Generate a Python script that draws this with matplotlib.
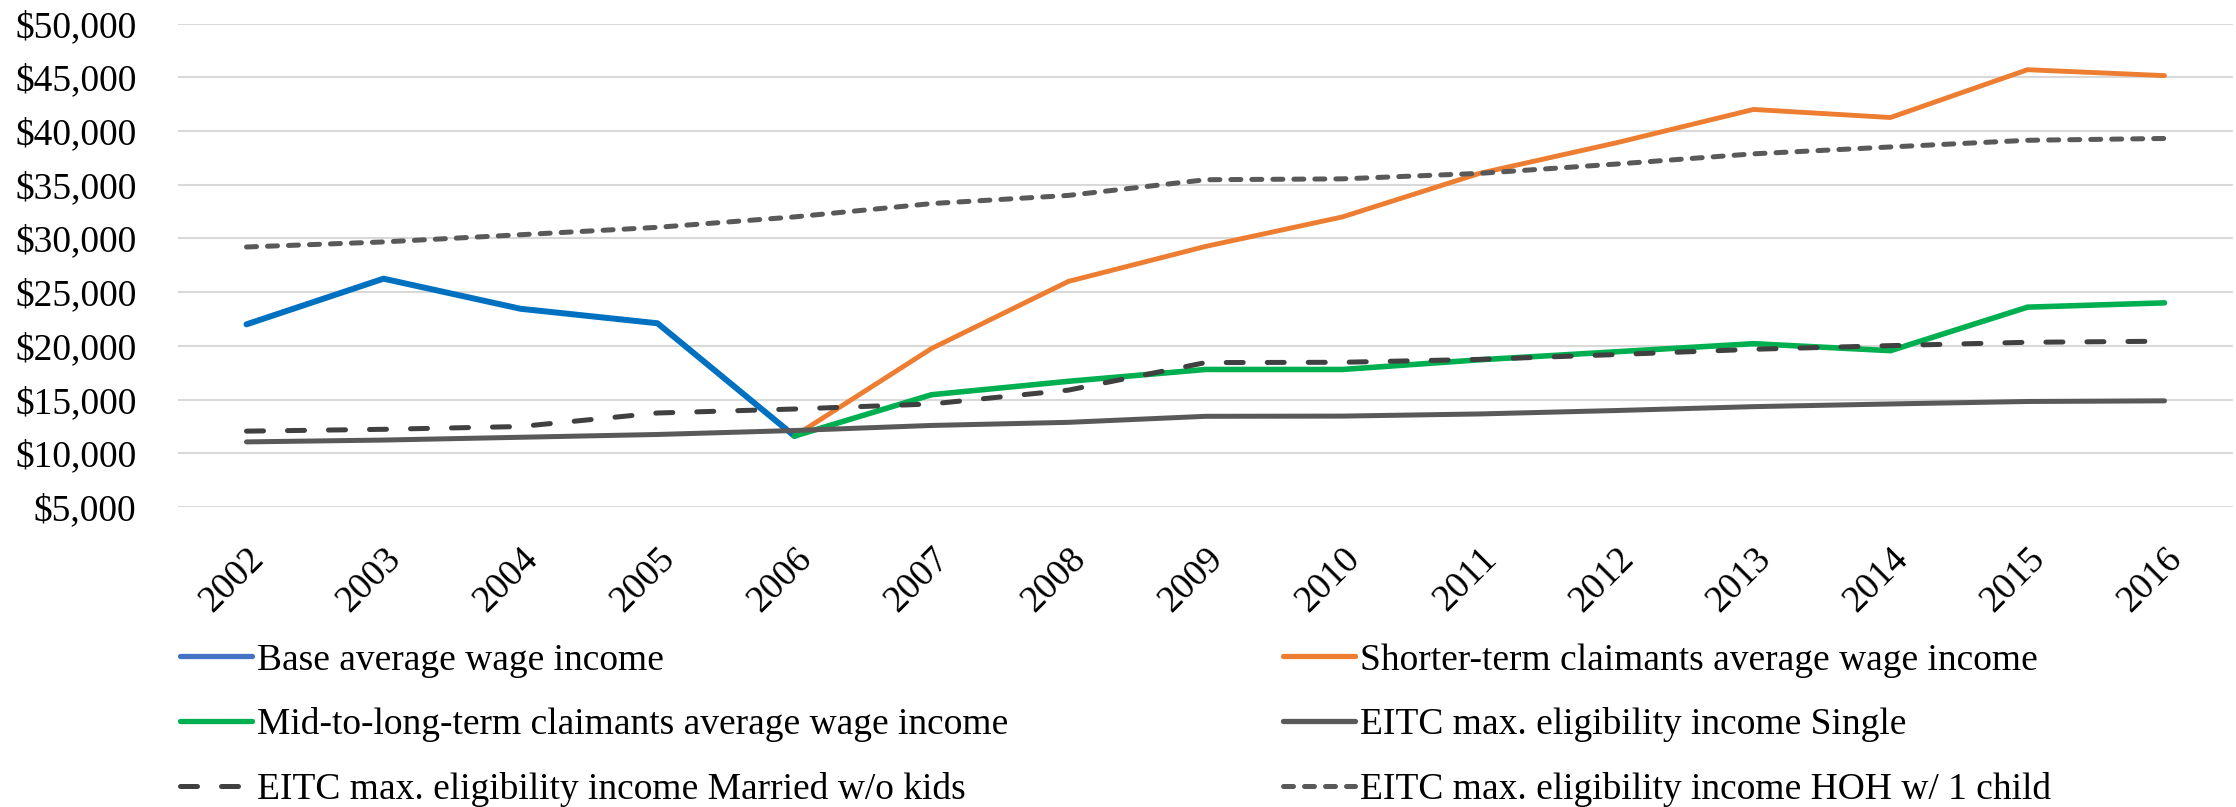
import matplotlib
matplotlib.use("Agg")
import matplotlib.pyplot as plt
from matplotlib.lines import Line2D
from matplotlib.ticker import FuncFormatter

years = [2002, 2003, 2004, 2005, 2006, 2007, 2008, 2009, 2010, 2011, 2012, 2013, 2014, 2015, 2016]

base_years = [2002, 2003, 2004, 2005, 2006]
base_avg = [22000, 26250, 23450, 22100, 11600]

claim_years = [2006, 2007, 2008, 2009, 2010, 2011, 2012, 2013, 2014, 2015, 2016]
shorter_term = [11600, 19750, 26000, 29250, 32000, 36050, 38900, 42000, 41250, 45700, 45150]
mid_long_term = [11600, 15450, 16700, 17800, 17800, 18700, 19450, 20200, 19550, 23600, 24000]

eitc_single = [11060, 11230, 11490, 11750, 12120, 12590, 12880, 13440, 13460, 13660, 13980, 14340, 14590, 14820, 14880]
eitc_married = [12060, 12230, 12490, 13750, 14120, 14590, 15880, 18440, 18470, 18740, 19190, 19680, 20020, 20330, 20430]
eitc_hoh = [29200, 29670, 30340, 31030, 32000, 33240, 34000, 35460, 35540, 36050, 36920, 37870, 38510, 39130, 39300]

labels = [
    "Base average wage income",
    "Shorter-term claimants average wage income",
    "Mid-to-long-term claimants average wage income",
    "EITC max. eligibility income Single",
    "EITC max. eligibility income Married w/o kids",
    "EITC max. eligibility income HOH w/ 1 child",
]

plt.rcParams['font.family'] = ['Liberation Serif', 'DejaVu Serif']

W, H = 2236, 807
FS = 27
fig = plt.figure(figsize=(W / 100, H / 100), dpi=100)
ax = fig.add_axes([178 / W, 1 - 507 / H, (2233 - 178) / W, (507 - 23.5) / H])

solid = dict(solid_capstyle="round", solid_joinstyle="round")
married_style = dict(color="#404040", lw=3.6, dashes=(3.4, 4.8), dash_capstyle="round")
hoh_style = dict(color="#595959", lw=3.6, dashes=(2.0, 2.2), dash_capstyle="round")

ax.plot(base_years, base_avg, color="#0070C0", lw=4.3, **solid)
ax.plot(claim_years, shorter_term, color="#ED7D31", lw=3.5, **solid)
ax.plot(claim_years, mid_long_term, color="#00B050", lw=4.0, **solid)
ax.plot(years, eitc_single, color="#595959", lw=3.6, **solid)
ax.plot(years, eitc_married, **married_style)
ax.plot(years, eitc_hoh, **hoh_style)

ax.set_xlim(2001.5, 2016.5)
ax.set_ylim(5000, 50000)
ax.set_yticks(range(5000, 50001, 5000))
ax.yaxis.set_major_formatter(FuncFormatter(lambda v, p: "${:,.0f}".format(v)))
ax.set_xticks(years)
ax.set_xticklabels([str(y) for y in years], rotation=45, ha="right", va="top", rotation_mode="anchor")
ax.grid(axis="y", color="#D9D9D9", lw=1.5)
ax.set_axisbelow(True)
for s in ax.spines.values():
    s.set_visible(False)
ax.tick_params(axis="y", length=0, pad=30, labelsize=FS)
ax.tick_params(axis="x", length=0, pad=25, labelsize=FS)

h_base = Line2D([], [], color="#4472C4", lw=3.8, **solid)
h_short = Line2D([], [], color="#ED7D31", lw=3.8, **solid)
h_mid = Line2D([], [], color="#00B050", lw=3.8, **solid)
h_single = Line2D([], [], color="#595959", lw=3.8, **solid)
h_married = Line2D([], [], **married_style)
h_hoh = Line2D([], [], **hoh_style)

leg_kw = dict(frameon=False, fontsize=FS, handlelength=1.92, handletextpad=0.13,
              labelspacing=0.79, borderaxespad=0, borderpad=0, loc="upper left")
fig.legend([h_base, h_mid, h_married], [labels[0], labels[2], labels[4]],
           bbox_to_anchor=(180 / W, 1 - 643 / H), **leg_kw)
fig.legend([h_short, h_single, h_hoh], [labels[1], labels[3], labels[5]],
           bbox_to_anchor=(1283 / W, 1 - 643 / H), **leg_kw)

fig.savefig("out.png", dpi=100, facecolor="white")
